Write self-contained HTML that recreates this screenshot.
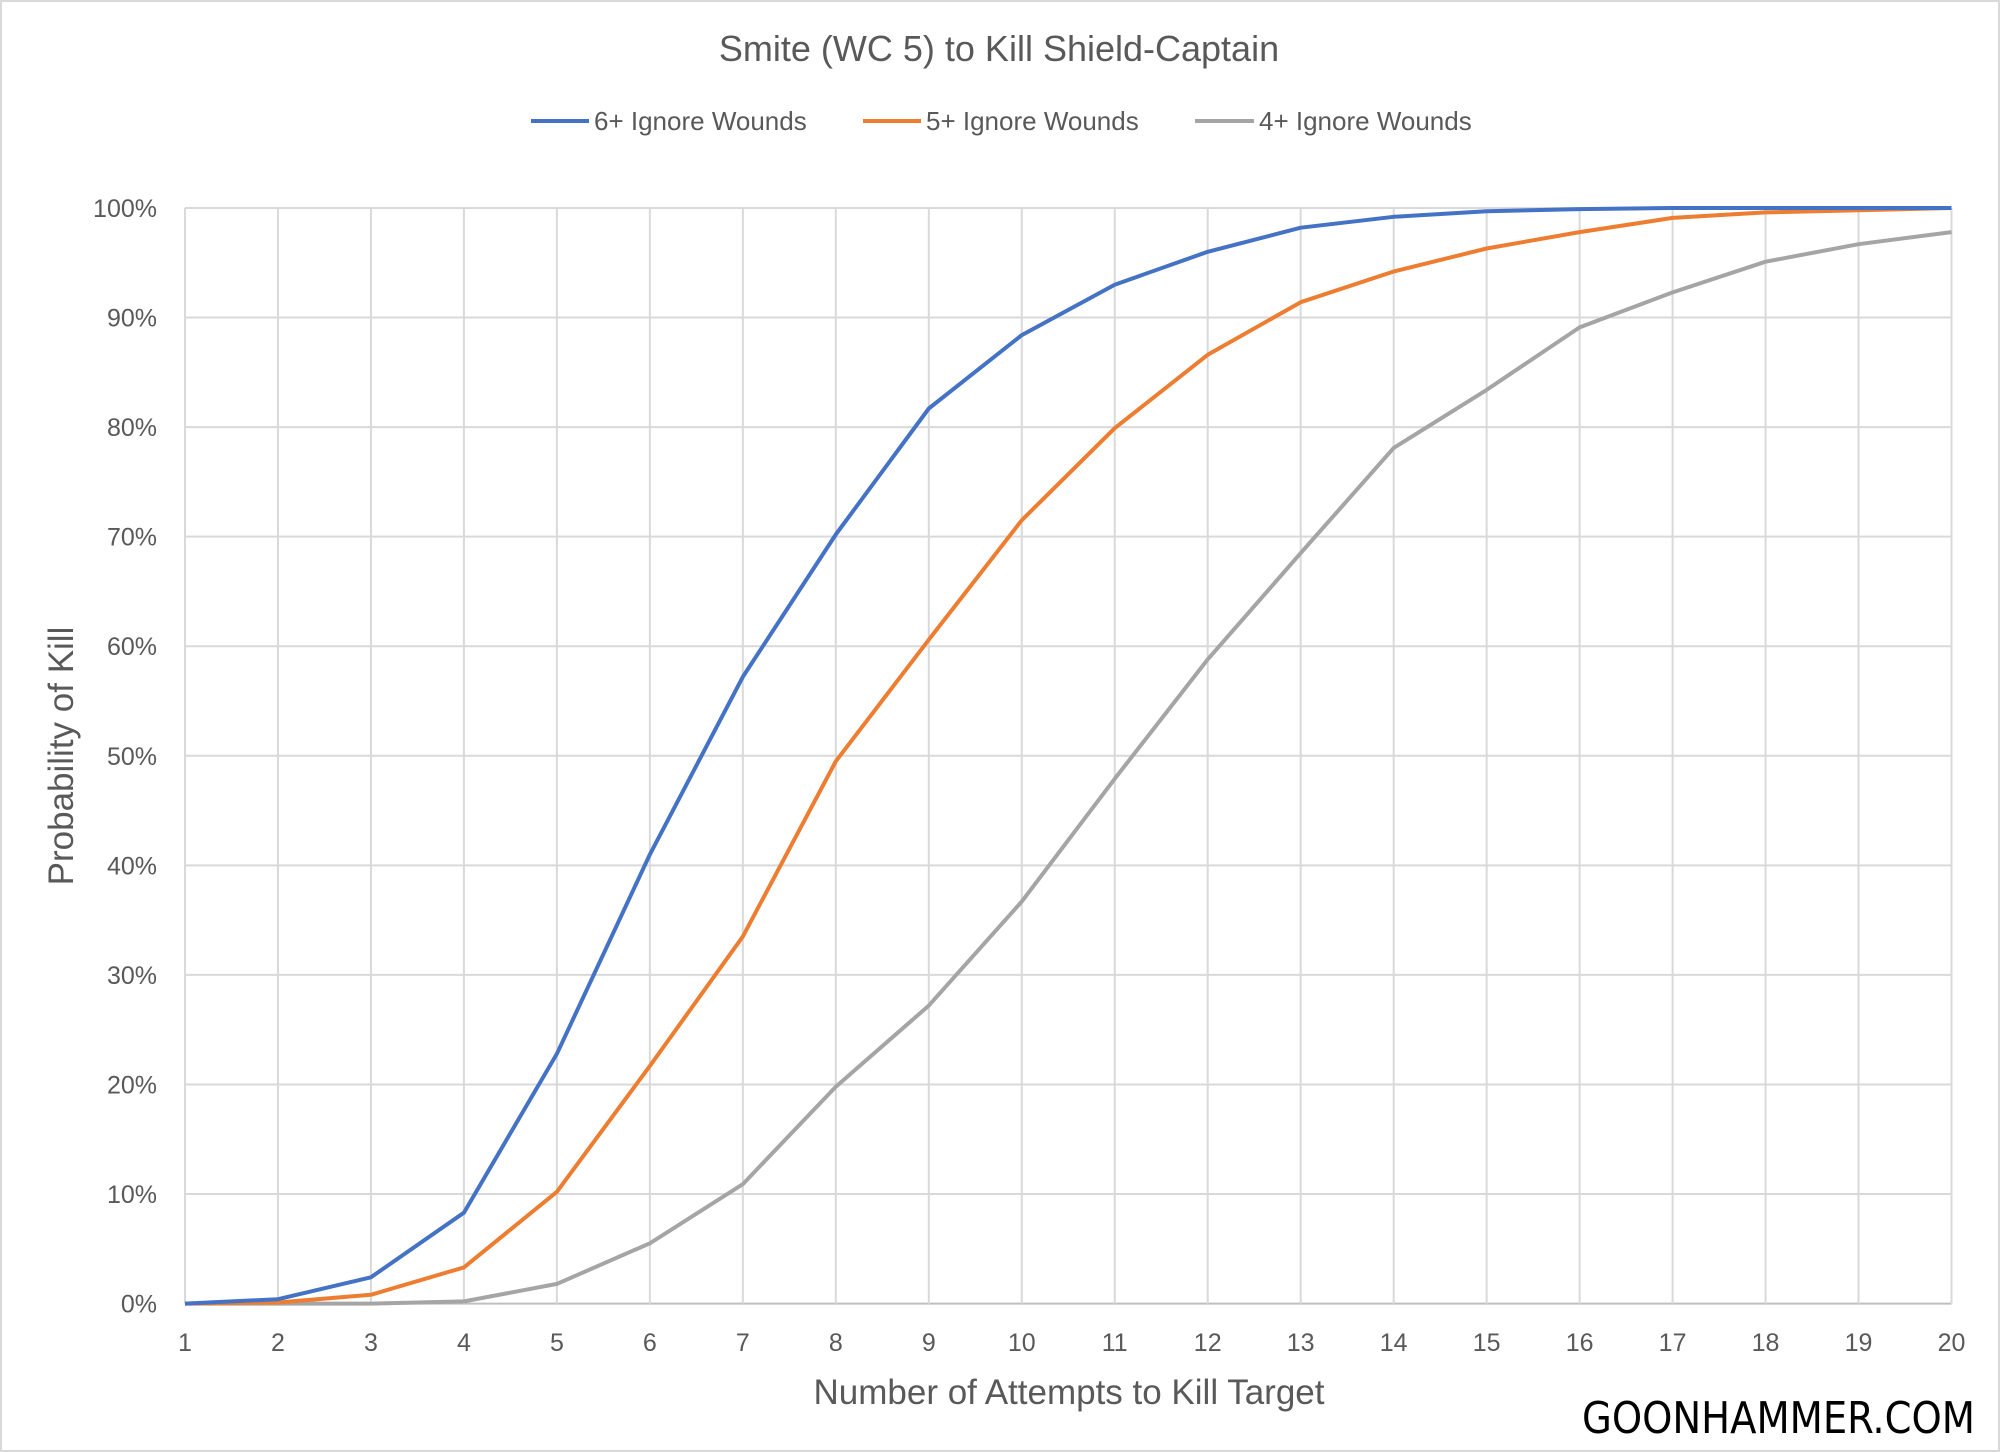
<!DOCTYPE html>
<html><head><style>
html,body{margin:0;padding:0;background:#fff;}
svg{display:block;}
text{font-family:"Liberation Sans",sans-serif;fill:#595959;}
</style></head><body>
<svg width="2000" height="1452" viewBox="0 0 2000 1452" xmlns="http://www.w3.org/2000/svg">
<rect x="1" y="1" width="1998" height="1450" fill="#fff" stroke="#d9d9d9" stroke-width="2"/>
<text x="999" y="61" font-size="36" text-anchor="middle">Smite (WC 5) to Kill Shield-Captain</text>
<line x1="531" y1="121" x2="589" y2="121" stroke="#4472C4" stroke-width="4"/>
<text x="594" y="130" font-size="26">6+ Ignore Wounds</text>
<line x1="863" y1="121" x2="921" y2="121" stroke="#ED7D31" stroke-width="4"/>
<text x="926" y="130" font-size="26">5+ Ignore Wounds</text>
<line x1="1195" y1="121" x2="1254" y2="121" stroke="#A5A5A5" stroke-width="4"/>
<text x="1259" y="130" font-size="26">4+ Ignore Wounds</text>
<g id="grid" stroke="#d9d9d9" stroke-width="2"></g>
<g id="labels" font-size="25"></g>
<g id="series" fill="none" stroke-width="4" stroke-linejoin="round"></g>
<text x="1069" y="1404" font-size="35" text-anchor="middle">Number of Attempts to Kill Target</text>
<text transform="translate(73,756) rotate(-90)" font-size="35" text-anchor="middle">Probability of Kill</text>
<text x="1582" y="1433" font-size="44" textLength="393" lengthAdjust="spacingAndGlyphs" style="fill:#000;font-family:'DejaVu Sans Condensed','Liberation Sans',sans-serif">GOONHAMMER.COM</text>
<script>
(function(){
var ns="http://www.w3.org/2000/svg";
var x0=185,dx=(1951.5-185)/19,y0=1303.6,dy=109.56;
var g=document.getElementById('grid'),L=document.getElementById('labels'),S=document.getElementById('series');
function el(p,t,a,txt){var e=document.createElementNS(ns,t);for(var k in a)e.setAttribute(k,a[k]);if(txt!=null)e.textContent=txt;p.appendChild(e);return e;}
for(var i=0;i<=10;i++){var y=y0-i*dy;el(g,'line',{x1:x0,x2:1951.5,y1:y,y2:y,stroke:i==0?'#bfbfbf':'#d9d9d9'});
el(L,'text',{x:157,y:y+9,'text-anchor':'end'},(i*10)+'%');}
for(var j=0;j<20;j++){var x=x0+j*dx;el(g,'line',{x1:x,x2:x,y1:y0-10*dy,y2:y0});
el(L,'text',{x:x,y:1351,'text-anchor':'middle'},String(j+1));}
var d=[["#A5A5A5",[0,0,0,0.2,1.8,5.5,10.9,19.8,27.2,36.7,47.9,58.8,68.5,78.1,83.4,89.1,92.3,95.1,96.7,97.8]],
["#ED7D31",[0,0.1,0.8,3.3,10.2,21.7,33.5,49.5,60.6,71.5,79.9,86.6,91.4,94.2,96.3,97.8,99.1,99.6,99.8,100]],
["#4472C4",[0,0.4,2.4,8.3,22.8,41,57.2,70.2,81.7,88.4,93,96,98.2,99.2,99.7,99.9,100,100,100,100]]];
d.forEach(function(s){var pts=s[1].map(function(v,k){return (x0+k*dx).toFixed(1)+','+(y0-v/10*dy).toFixed(1);}).join(' ');
el(S,'polyline',{points:pts,stroke:s[0]});});
})();
</script>
</svg>
</body></html>
